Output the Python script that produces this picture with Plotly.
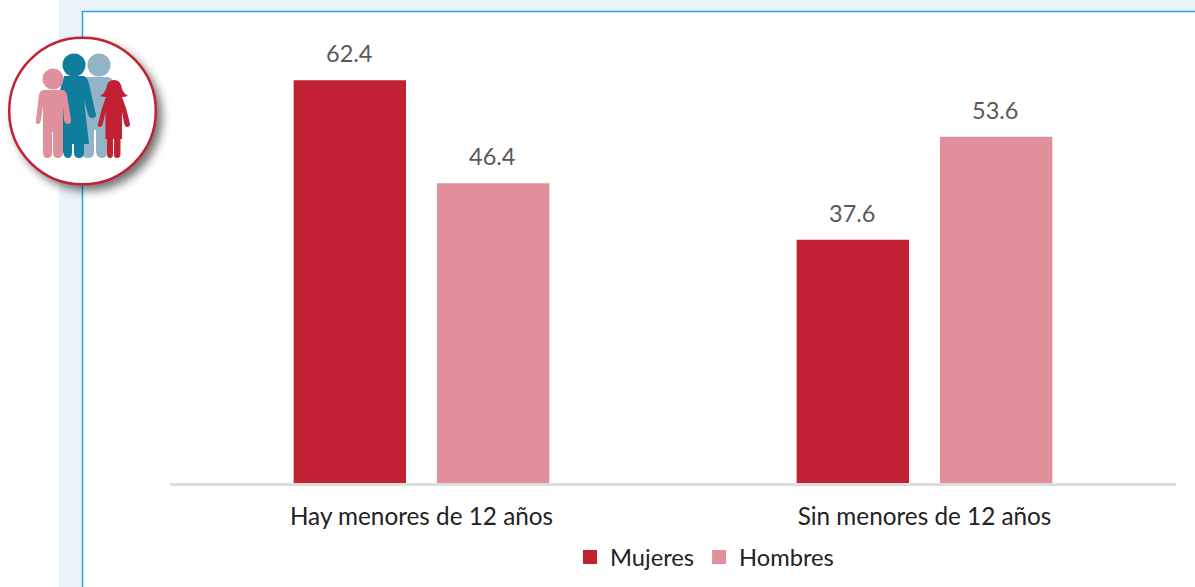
import base64
import plotly.graph_objects as go

categories = ["Hay menores de 12 años", "Sin menores de 12 años"]
mujeres = [62.4, 37.6]
hombres = [46.4, 53.6]

W, H = 1195, 587
L, R, T, B = 170, 19, 20, 104
PW, PH = W - L - R, H - T - B
px = lambda x: (x - L) / PW
py = lambda y: 1 - (y - T) / PH

RED, PINK, TEAL, SLATE = "#C22033", "#E0909A", "#0F7D9C", "#93B4C6"

icon = f'''<svg xmlns="http://www.w3.org/2000/svg" width="180" height="200" viewBox="0 0 180 200">
<defs><filter id="s" x="-30%" y="-30%" width="160%" height="160%"><feGaussianBlur stdDeviation="5"/></filter></defs>
<circle cx="88" cy="117" r="74" fill="#000" fill-opacity="0.55" filter="url(#s)"/>
<circle cx="82.5" cy="111" r="73.3" fill="#fff" stroke="{RED}" stroke-width="2.5"/>
<g fill="{SLATE}"><circle cx="99" cy="65" r="11.5"/>
<path d="M86 77H108Q113 78 115 85L118 108L112 112V118L107 116V152Q107 158 102 158T96 152V130H94V152Q94 158 88 158T82 152V90Z"/></g>
<g fill="{TEAL}"><circle cx="74" cy="65" r="11.5"/>
<path d="M64 76H84Q88 78 89 84L96 115Q96 118 92 118Q89 118 88 114L84 100L89 144H84V152Q84 158 79 158T74 152V144H72V152Q72 158 68 158T63 152V144H60L60 90Z"/></g>
<g fill="{PINK}"><circle cx="53" cy="79" r="10.5"/>
<path d="M44 90H62Q66 90 67 95L71 120Q71 124 68 124Q65 124 64 120L63 106V152Q63 158 58 158T53 152V132H52V152Q52 158 47.500 158T43 152V106L41 120Q40 124 38 124Q35 124 36 120L39 95Q40 90 44 90Z"/></g>
<g fill="{RED}"><path d="M114 80Q121 80 122 89Q124 94 128 96Q125 97 122 97L126 108L130 124Q130 127 127 127Q125 127 124 123L122 112V139H120.500V154Q120.500 158 117 158T114 154V139H113V154Q113 158 110 158T107 154V139H105.500V112L103 123Q102 127 100 127Q97 127 98 124L102 108L106 97Q103 97 100 96Q104 94 106 89Q107 80 114 80Z"/></g>
</svg>'''
uri = "data:image/svg+xml;base64," + base64.b64encode(icon.encode()).decode()

fig = go.Figure()
fig.add_bar(name="Mujeres", x=categories, y=mujeres, marker_color=RED,
            marker_line=dict(color=RED, width=2))
fig.add_bar(name="Hombres", x=categories, y=hombres, marker_color=PINK,
            marker_line=dict(color=PINK, width=2))

annotations = []
for values, shift in ((mujeres, -73), (hombres, 70.5)):
    for cat, v in zip(categories, values):
        annotations.append(dict(x=cat, y=v, text=f"{v:.1f}", showarrow=False, xanchor="center",
                                yanchor="bottom", xshift=shift, yshift=12,
                                font=dict(color="#595959", size=23.5, family="Lato")))

fig.update_layout(
    width=W, height=H, margin=dict(l=L, r=R, t=T, b=B, pad=0, autoexpand=False),
    paper_bgcolor="white", plot_bgcolor="rgba(0,0,0,0)",
    font=dict(family="Lato", size=24, color="#222222"),
    barmode="group", bargap=0.43, bargroupgap=0.23,
    annotations=annotations,
    xaxis=dict(showgrid=False, showline=True, linecolor="#DDDDDD", linewidth=3, ticks="",
               tickfont=dict(size=24.3, color="#222222"), ticklabelstandoff=10),
    yaxis=dict(range=[0, PH / 6.44], visible=False, showgrid=False),
    legend=dict(orientation="h", xanchor="left", x=px(570), yanchor="middle", y=py(557),
                font=dict(size=23.7, color="#222222"), bgcolor="rgba(0,0,0,0)",
                itemwidth=30, tracegroupgap=0),
    shapes=[
        dict(type="rect", xref="paper", yref="paper", x0=px(59), x1=px(W), y0=py(0), y1=py(12),
             fillcolor="#EAF3FB", line_width=0, layer="below"),
        dict(type="rect", xref="paper", yref="paper", x0=px(59), x1=px(82), y0=py(0), y1=py(H),
             fillcolor="#EAF3FB", line_width=0, layer="below"),
        dict(type="line", xref="paper", yref="paper", x0=px(82), x1=px(W), y0=py(11.5), y1=py(11.5),
             line=dict(color="#2AA5DC", width=1.5), layer="below"),
        dict(type="line", xref="paper", yref="paper", x0=px(82.5), x1=px(82.5), y0=py(11), y1=py(H),
             line=dict(color="#2AA5DC", width=1.5), layer="below"),
    ],
    images=[dict(source=uri, xref="paper", yref="paper", x=px(0), y=py(0),
                 sizex=180 / PW, sizey=200 / PH, xanchor="left", yanchor="top",
                 sizing="stretch", layer="above")],
)
fig.write_html("out.html", config={"displayModeBar": False},
               post_script="document.body.style.margin='0';document.documentElement.style.overflow='hidden';")
